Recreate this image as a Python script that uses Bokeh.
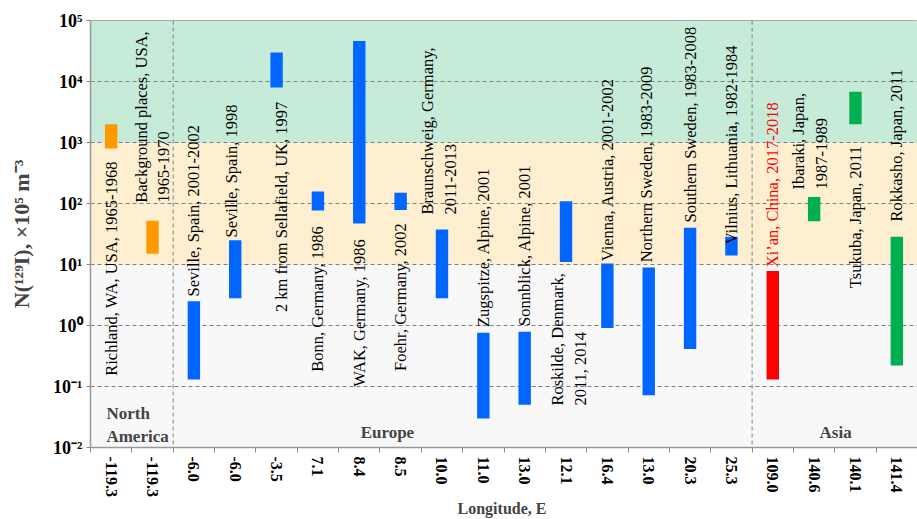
import math
from bokeh.plotting import figure
from bokeh.models import Range1d, FixedTicker, Span, ColumnDataSource, Label
from bokeh.core.properties import value
from bokeh.embed import file_html
from bokeh.resources import INLINE

# ---------------- data ----------------
lon_labels = ["-119.3", "-119.3", "-6.0", "-6.0", "-3.5", "7.1", "8.4", "8.5", "10.0", "11.0",
              "13.0", "12.1", "16.4", "13.0", "20.3", "25.3", "109.0", "140.6", "140.1", "141.4"]
sites = ["Richland, WA, USA, 1965-1968",
         "Background places, USA,\n1965-1970",
         "Seville, Spain, 2001-2002",
         "Seville, Spain, 1998",
         "2 km from Sellafield, UK, 1997",
         "Bonn, Germany, 1986",
         "WAK, Germany, 1986",
         "Foehr, Germany, 2002",
         "Braunschweig, Germany,\n2011-2013",
         "Zugspitze, Alpine, 2001",
         "Sonnblick, Alpine, 2001",
         "Roskilde, Denmark,\n2011, 2014",
         "Vienna, Austria, 2001-2002",
         "Northern Sweden, 1983-2009",
         "Southern Sweden, 1983-2008",
         "Vilnius, Lithuania, 1982-1984",
         "Xi\u2019an, China, 2017-2018",
         "Ibaraki, Japan,\n1987-1989",
         "Tsukuba, Japan, 2011",
         "Rokkasho, Japan, 2011"]
region = ["NA", "NA"] + ["EU"] * 14 + ["CN"] + ["JP"] * 3
n129_low = [800, 15, 0.13, 2.8, 8000, 77, 47, 78, 2.8, 0.030,
            0.050, 11, 0.91, 0.072, 0.41, 14, 0.13, 51, 2000, 0.22]
n129_high = [2000, 52, 2.5, 25, 30000, 158, 46000, 150, 37.5, 0.76,
             0.79, 109, 10.4, 8.9, 40, 28.5, 7.8, 128, 6800, 28.5]
# where each site label starts (bottom end of the rotated text)
label_start = [0.15, 103, 3.0, 27.8, 1.66, 0.174, 0.099, 0.18, 65.9, 0.945,
               0.98, 0.0486, 11.3, 10.9, 48.8, 21.4, 9.0, 169, 4.09, 50.7]
label_dx = [0, 0, 0, -0.08, 0.11, 0, 0, 0, -0.07, 0,
            0, 0.07, 0, -0.05, 0, 0, 0, -0.1, 0, 0]
# concentration level bands
band_low = [0.01, 10, 1000]
band_high = [10, 1000, 100000]
band_colors = ["#f8f8f8", "#fdefd0", "#c6ebd8"]
y_ticks = [0.01, 0.1, 1, 10, 100, 1000, 10000, 100000]
y_tick_labels = ["10\u207b\u00b2", "10\u207b\u00b9", "10\u2070", "10\u00b9", "10\u00b2", "10\u00b3", "10\u2074", "10\u2075"]

region_color = {"NA": "#ff9900", "EU": "#0066ff", "CN": "#ff0000", "JP": "#00b050"}
SERIF = "Liberation Serif"

idx = list(range(1, len(lon_labels) + 1))
src = ColumnDataSource(dict(
    x=idx, low=n129_low, high=n129_high,
    color=[region_color[r] for r in region],
    lx=[i + d for i, d in zip(idx, label_dx)], ly=label_start, txt=sites,
    tcolor=["#ff0000" if r == "CN" else "#000000" for r in region],
))

p = figure(width=917, height=519, x_range=Range1d(0.5, 20.5), y_range=Range1d(1e-2, 1e5),
           y_axis_type="log", output_backend="svg", toolbar_location=None,
           min_border_left=90, min_border_top=20, min_border_right=0, min_border_bottom=10)

# bands
p.quad(left=[0.5] * 3, right=[20.5] * 3, bottom=band_low, top=band_high,
       fill_color=band_colors, line_color=None, level="image")

# grids
p.xgrid.visible = False
p.ygrid.ticker = FixedTicker(ticks=y_ticks)
p.ygrid.grid_line_color = "#808080"
p.ygrid.grid_line_dash = "4 3"
p.ygrid.grid_line_width = 1

for loc in (2.5, 16.5):
    p.add_layout(Span(location=loc, dimension="height", line_color="#808080",
                      line_dash="4 3", line_width=1))

# bars
p.vbar(x="x", width=0.3, bottom="low", top="high", fill_color="color", line_color=None, source=src)

# site labels
p.text(x="lx", y="ly", text="txt", angle=math.pi / 2, text_align="left", text_baseline="middle",
       text_font=value(SERIF), text_font_size="16.5px", text_color="tcolor",
       text_line_height=1.2, source=src)

# region labels
for txt, x, y, align in [("North\nAmerica", 0.885, 0.0234, "left"),
                         ("Europe", 7.68, 0.0176, "center"),
                         ("Asia", 18.52, 0.0176, "center")]:
    p.add_layout(Label(x=x, y=y, text=txt, text_font=SERIF, text_font_size="17px",
                       text_font_style="bold", text_align=align, text_baseline="middle",
                       text_line_height=1.2))

# axes
p.outline_line_color = "#999999"
ax = p.xaxis[0]
ax.ticker = FixedTicker(ticks=idx, minor_ticks=[i + 0.5 for i in range(0, 21)])
ax.major_label_overrides = {i: lab for i, lab in zip(idx, lon_labels)}
ax.major_tick_line_color = None
ax.major_tick_out = 5
ax.major_tick_in = 0
ax.minor_tick_out = 5
ax.minor_tick_in = 0
ax.minor_tick_line_color = "#888888"
ax.axis_line_color = "#999999"
ax.axis_line_width = 1.5
ax.major_label_orientation = -math.pi / 2
ax.major_label_text_font = SERIF
ax.major_label_text_font_style = "bold"
ax.major_label_text_font_size = "16px"
ax.major_label_text_color = "#000000"
ax.major_label_standoff = 4
ax.axis_label = "Longitude,  E"
ax.axis_label_text_font = SERIF
ax.axis_label_text_font_style = "bold"
ax.axis_label_text_font_size = "16px"
ax.axis_label_standoff = 0

ay = p.yaxis[0]
ay.ticker = FixedTicker(ticks=y_ticks)
ay.major_label_overrides = {t: l for t, l in zip(y_ticks, y_tick_labels)}
ay.minor_tick_line_color = None
ay.major_tick_out = 4
ay.major_tick_in = 0
ay.major_tick_line_color = "#888888"
ay.axis_line_color = "#999999"
ay.axis_line_width = 1.5
ay.major_label_text_font = SERIF
ay.major_label_text_font_style = "bold"
ay.major_label_text_font_size = "18px"
ay.major_label_text_color = "#000000"
ay.major_label_standoff = 4
ay.axis_label = "N(\u00b9\u00b2\u2079I), \u00d710\u2075 m\u207b\u00b3"
ay.axis_label_text_font = SERIF
ay.axis_label_text_font_style = "bold"
ay.axis_label_text_font_size = "22px"
ay.axis_label_standoff = 16

open("out.html", "w").write(file_html(p, INLINE))
